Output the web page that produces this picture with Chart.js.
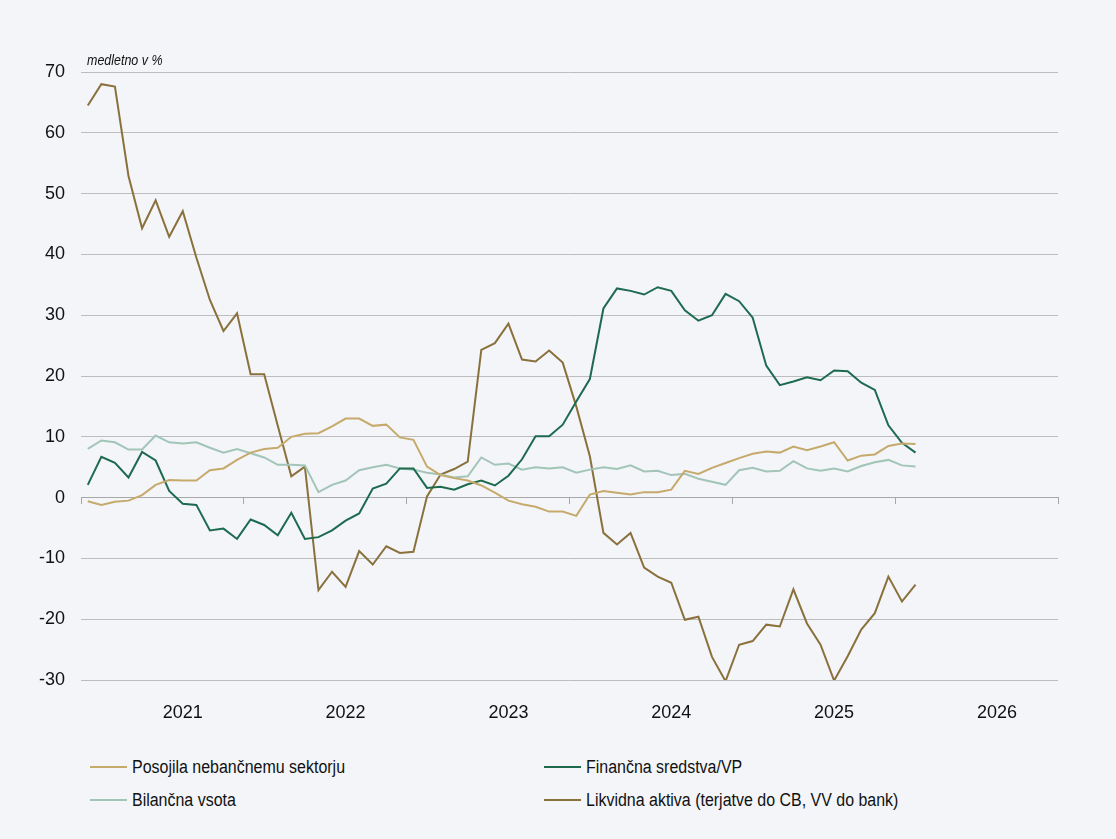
<!DOCTYPE html>
<html>
<head>
<meta charset="utf-8">
<script src="https://cdn.jsdelivr.net/npm/chart.js@4"></script>
<style>
  body { margin: 0; background: #f3f5f9; }
  #wrap { position: relative; width: 1116px; height: 839px; background: #f3f5f9; }
  #box { position: absolute; left: 0; top: 0; width: 1116px; height: 730px; }
  #legend { position: absolute; left: 0; top: 752px; width: 1116px; }
  .item { position: absolute; display: flex; align-items: center; height: 30px; white-space: nowrap;
          font-family: "Liberation Sans Narrow", "Arial Narrow", sans-serif; font-size: 18px; color: #111; }
  .item span.ln { display: inline-block; width: 37px; height: 2px; margin-right: 5px; }
  .item span.tx { display: inline-block; transform: scaleX(0.887); transform-origin: left center; }
</style>
</head>
<body>
<div id="wrap">
  <div id="box"><canvas id="chartBilanca"></canvas></div>
  <div id="legend"></div>
</div>
<script>
// Podatki (mesečno, od junija 2020 do julija 2025)
const startYear = 2020, startMonth = 6, nMonths = 72;
const yearLabels = ["2021", "2022", "2023", "2024", "2025", "2026"];
const yTicks = [-30, -20, -10, 0, 10, 20, 30, 40, 50, 60, 70];

const posojila = [-0.6, -1.2, -0.7, -0.5, 0.4, 2.1, 2.9, 2.8, 2.8, 4.5, 4.8, 6.2,
  7.4, 8.0, 8.2, 10.0, 10.5, 10.6, 11.7, 13.0, 13.0, 11.8, 12.0, 9.9,
  9.5, 5.1, 3.7, 3.2, 2.8, 2.0, 0.8, -0.5, -1.1, -1.5, -2.3, -2.3,
  -3.0, 0.5, 1.1, 0.8, 0.5, 0.9, 0.9, 1.3, 4.4, 3.9, 4.9, 5.7,
  6.5, 7.2, 7.6, 7.4, 8.4, 7.8, 8.4, 9.1, 6.1, 6.9, 7.1, 8.5, 8.9, 8.8];

const financna = [2.1, 6.7, 5.7, 3.3, 7.5, 6.1, 1.1, -1.0, -1.2, -5.4, -5.1, -6.8,
  -3.6, -4.5, -6.2, -2.5, -6.8, -6.5, -5.4, -3.8, -2.6, 1.5, 2.3, 4.8,
  4.8, 1.6, 1.8, 1.3, 2.2, 2.8, 2.0, 3.6, 6.3, 10.1, 10.1, 12.0,
  15.8, 19.5, 31.1, 34.4, 34.0, 33.4, 34.6, 34.0, 30.8, 29.1, 30.0, 33.5,
  32.3, 29.6, 21.7, 18.5, 19.1, 19.8, 19.3, 20.9, 20.8, 18.9, 17.7, 11.9, 9.0, 7.4];

const bilancna = [8.0, 9.4, 9.1, 7.9, 7.9, 10.2, 9.1, 8.9, 9.1, 8.2, 7.4, 8.0,
  7.3, 6.6, 5.4, 5.4, 5.3, 0.9, 2.1, 2.8, 4.5, 5.0, 5.4, 4.8,
  4.6, 4.1, 3.8, 3.3, 3.5, 6.6, 5.4, 5.6, 4.6, 5.0, 4.8, 5.0,
  4.1, 4.6, 5.0, 4.7, 5.3, 4.3, 4.4, 3.7, 3.9, 3.1, 2.6, 2.1,
  4.5, 4.9, 4.3, 4.4, 6.0, 4.8, 4.4, 4.8, 4.3, 5.2, 5.8, 6.2, 5.3, 5.1];

const likvidna = [64.5, 68.0, 67.6, 52.9, 44.3, 48.9, 42.9, 47.1, 39.5, 32.5, 27.4, 30.3,
  20.3, 20.3, 11.8, 3.5, 5.1, -15.2, -12.2, -14.7, -8.8, -11.0, -8.0, -9.1,
  -8.9, 0.2, 3.8, 4.7, 5.9, 24.3, 25.4, 28.6, 22.7, 22.4, 24.2, 22.2,
  15.0, 6.8, -5.8, -7.7, -5.8, -11.5, -13.0, -14.0, -20.1, -19.6, -26.2, -30.2,
  -24.2, -23.6, -20.9, -21.2, -15.1, -20.7, -24.2, -30.1, -26.1, -21.7, -19.0, -13.0, -17.1, -14.3];

// Kategorije: mesec za mesecem
const categories = [];
for (let i = 0; i < nMonths; i++) {
  const m = (startMonth - 1 + i) % 12 + 1;
  const y = startYear + Math.floor((startMonth - 1 + i) / 12);
  categories.push(y + "-" + String(m).padStart(2, "0"));
}

const FONT = "'Liberation Sans Narrow', 'Arial Narrow', sans-serif";
const GRID = "#bdbdbd";

const series = [
  { label: "Posojila nebančnemu sektorju", data: posojila, color: "#c6aa6c" },
  { label: "Finančna sredstva/VP", data: financna, color: "#1d6a4f" },
  { label: "Bilančna vsota", data: bilancna, color: "#a2c5b7" },
  { label: "Likvidna aktiva (terjatve do CB, VV do bank)", data: likvidna, color: "#8a713c" }
];

// Podnaslov nad grafom (malo stisnjen, kot ozka pisava)
const unitLabel = {
  id: "unitLabel",
  afterDraw(chart) {
    const ctx = chart.ctx;
    ctx.save();
    ctx.font = "italic 14px " + FONT;
    ctx.fillStyle = "#111";
    ctx.textBaseline = "alphabetic";
    ctx.translate(chart.chartArea.left + 6, 65);
    ctx.scale(0.89, 1);
    ctx.fillText("medletno v %", 0, 0);
    ctx.restore();
  }
};

const chart = new Chart(document.getElementById("chartBilanca"), {
  type: "line",
  data: {
    labels: categories,
    datasets: series.map(s => ({
      label: s.label,
      data: s.data,
      borderColor: s.color,
      backgroundColor: s.color,
      borderWidth: 2,
      pointRadius: 0,
      tension: 0,
      xAxisID: "x",
      yAxisID: "y"
    }))
  },
  options: {
    responsive: true,
    maintainAspectRatio: false,
    animation: false,
    layout: { padding: { top: 72, right: 58, bottom: 0, left: 0 } },
    plugins: { legend: { display: false }, tooltip: { enabled: false } },
    scales: {
      x: {
        type: "category",
        offset: true,
        grid: { display: false },
        border: { display: false },
        afterFit: s => { s.height = 50; },
        ticks: {
          autoSkip: false,
          maxRotation: 0,
          padding: 14,
          color: "#111",
          font: { family: FONT, size: 18 },
          callback: function (value) {
            const lab = this.getLabelForValue(value);
            return lab.endsWith("-01") ? yearLabels[yearLabels.indexOf(lab.slice(0, 4))] : "";
          }
        }
      },
      x0: {
        type: "category",
        position: { y: 0 },
        offset: true,
        ticks: { display: false },
        border: { display: true, color: "#a8a8a8", width: 1 },
        grid: {
          offset: true,
          drawOnChartArea: false,
          drawTicks: true,
          tickLength: 6,
          tickColor: c => (c.index === undefined || c.index % 12 === 0) ? "#a8a8a8" : "rgba(0,0,0,0)"
        }
      },
      y: {
        min: -30,
        max: 70,
        afterFit: s => { s.width = 81; },
        afterBuildTicks: s => { s.ticks = yTicks.map(v => ({ value: v })); },
        border: { display: false },
        grid: { color: GRID, drawTicks: false },
        ticks: {
          padding: 16,
          color: "#111",
          font: { family: FONT, size: 18 }
        }
      }
    }
  },
  plugins: [unitLabel]
});

// Legenda v dveh stolpcih
const legendDiv = document.getElementById("legend");
const pos = [[90, 0], [544, 0], [90, 33], [544, 33]];
series.forEach((s, i) => {
  const el = document.createElement("div");
  el.className = "item";
  el.style.left = pos[i][0] + "px";
  el.style.top = pos[i][1] + "px";
  el.innerHTML = `<span class="ln" style="background:${s.color}"></span><span class="tx">${s.label}</span>`;
  legendDiv.appendChild(el);
});
</script>
</body>
</html>
